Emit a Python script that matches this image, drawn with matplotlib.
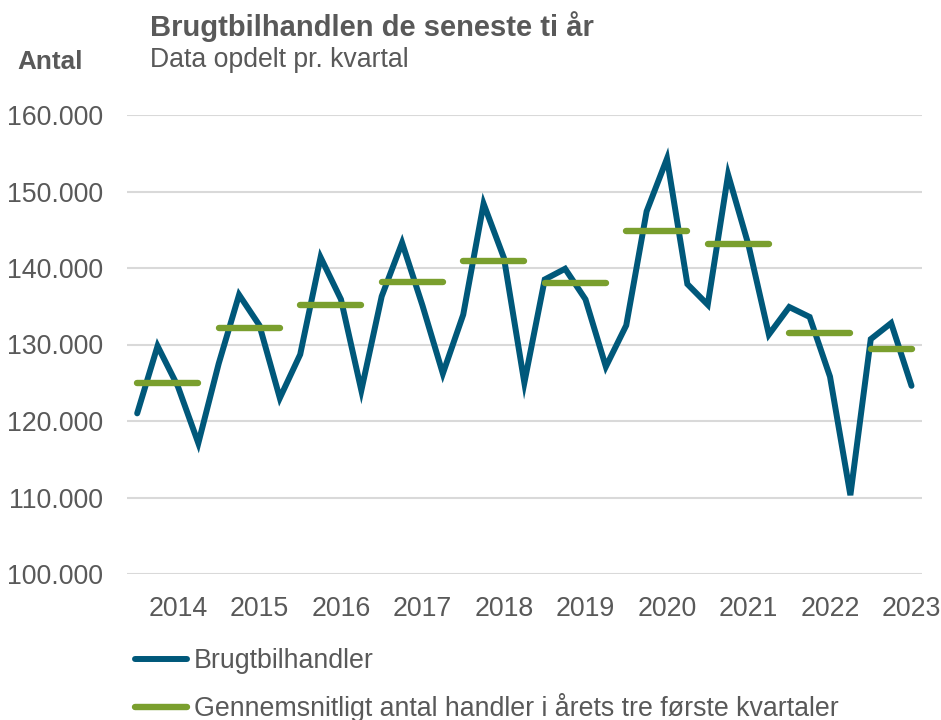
import matplotlib
matplotlib.use("Agg")
import matplotlib.pyplot as plt
import numpy as np

plt.rcParams['font.family'] = ['Liberation Sans', 'DejaVu Sans']

# Quarterly data 2014 Q1 - 2023 Q3
handler = [121.0, 129.8, 124.5, 117.1,
           127.5, 136.5, 132.5, 123.0,
           128.7, 141.4, 135.9, 124.0,
           136.3, 143.3, 135.1, 126.2,
           133.9, 148.4, 141.3, 125.0,
           138.5, 139.9, 135.9, 127.1,
           132.5, 147.4, 154.3, 137.9,
           135.2, 152.2, 143.0, 131.3,
           134.9, 133.6, 125.8, 110.3,
           130.7, 132.8, 124.6]
years = [2014, 2015, 2016, 2017, 2018, 2019, 2020, 2021, 2022, 2023]
avg3 = [125.0, 132.1, 135.1, 138.2, 140.9, 138.1, 144.8, 143.2, 131.5, 129.4]
# number of quarters each average segment spans (Q1..Q4, last year Q1..Q3)
span = [4, 4, 4, 4, 4, 4, 4, 4, 4, 3]
yticks = [100, 110, 120, 130, 140, 150, 160]

blue = '#00587A'
green = '#7A9F2E'
txt = '#595959'
grid = '#D9D9D9'

fig = plt.figure(figsize=(9.41, 7.2), dpi=100)
ax = fig.add_axes([127/941, 1-574/720, (921.7-127)/941, (574-115)/720])

x = np.arange(len(handler))
ax.plot(x, [v*1000 for v in handler], color=blue, lw=4.3, solid_capstyle='round',
        solid_joinstyle='miter', zorder=3, label='Brugtbilhandler')
for i, (yr, v, s) in enumerate(zip(years, avg3, span)):
    xs = [4*i, 4*i + s - 1]
    ax.plot(xs, [v*1000, v*1000], color=green, lw=4.6, solid_capstyle='round',
            zorder=4, label='Gennemsnitligt antal handler i årets tre første kvartaler' if i == 0 else None)

ax.set_xlim(-0.5, len(handler) - 0.5)
ax.set_ylim(100000, 160000)
ax.set_yticks([t*1000 for t in yticks])
ax.set_yticklabels([f"{t}.000" for t in yticks])
ax.set_xticks([4*i + 2 for i in range(len(years))])
ax.set_xticklabels([str(y) for y in years])
ax.tick_params(axis='both', length=0, labelsize=19.3, colors=txt)
ax.tick_params(axis='y', pad=17)
ax.tick_params(axis='x', pad=16)
ax.grid(axis='y', color=grid, lw=1.5, zorder=0)
for sp in ax.spines.values():
    sp.set_visible(False)

fig.text(150/941, 1-36/720, 'Brugtbilhandlen de seneste ti år', fontsize=21,
         fontweight='bold', color=txt, ha='left', va='baseline')
fig.text(150/941, 1-67/720, 'Data opdelt pr. kvartal', fontsize=19.2, color=txt,
         ha='left', va='baseline')
fig.text(17/941, 1-69/720, 'Antal', fontsize=18.8, fontweight='bold', color=txt,
         ha='left', va='baseline')

leg = fig.legend(loc='upper left', bbox_to_anchor=(135/941, 1-648/720), frameon=False,
                 fontsize=19.3, handlelength=1.95, handletextpad=0.25, labelspacing=0.72,
                 labelcolor=txt, borderaxespad=0, borderpad=0)

fig.savefig('out.png', dpi=100)
